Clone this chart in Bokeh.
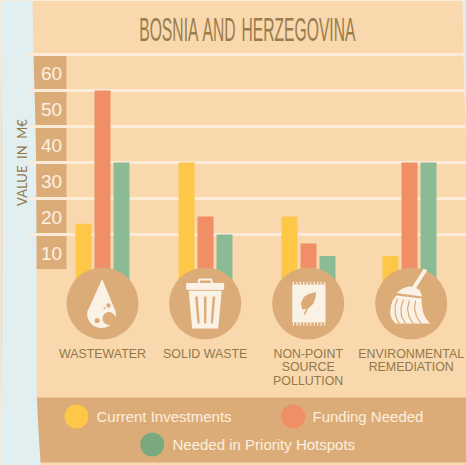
import numpy as np
from bokeh.plotting import figure
from bokeh.models import Range1d, Div
from bokeh.layouts import column
from bokeh.core.properties import value
from bokeh.embed import file_html
from bokeh.resources import INLINE

# ---- data ----
title_text = "BOSNIA AND HERZEGOVINA"
axis_label = "VALUE\u00a0\u00a0IN\u00a0\u00a0M€"
tick_values = [10, 20, 30, 40, 50, 60]
current_investments = [13, 30, 15, 4]
funding_needed = [50, 15, 7.5, 30]
priority_hotspots = [30, 10, 4, 30]
series_names = ["Current Investments", "Funding Needed", "Needed in Priority Hotspots"]
category_lines = [["WASTEWATER"], ["SOLID WASTE"], ["NON-POINT", "SOURCE", "POLLUTION"], ["ENVIRONMENTAL", "REMEDIATION"]]

# ---- style ----
BG, BLUE, TAN, GRID, CREAM = "#F9D8AE", "#E2EFF0", "#DCAC78", "#FCECD7", "#FBF2E6"
YEL, ORG, GRN, GRN2 = "#FFC748", "#F08E66", "#8ABB95", "#7BA97F"
TXT = "#93784A"
W, H = 466, 465
group_x = [102, 205, 308, 409]
circle_x = [102, 204.7, 307.7, 410.7]
circle_y = 303

p = figure(width=W, height=H, x_range=Range1d(0, W), y_range=Range1d((270 - H) / 3.6, 270 / 3.6),
           output_backend="svg", toolbar_location=None, min_border=0, outline_line_color=None,
           background_fill_color=BG, border_fill_color=BG)
p.extra_y_ranges = {"px": Range1d(H, 0)}
p.xaxis.visible = False
p.yaxis.visible = False
p.grid.visible = False

def poly(xs, ys, color, **kw):
    p.patch(list(xs), list(ys), fill_color=color, line_color=None, y_range_name="px", **kw)

# legend band
poly([30, W, W, 30], [397, 397, 462, 462], TAN)
# tick boxes
p.quad(left=20, right=66, top=[v - 0.42 for v in tick_values], bottom=[v - 9.58 for v in tick_values],
       fill_color=TAN, line_color=None)
# left blue shape
poly([0, 32, 33, 34, 35, 35.6, 36, 36.3, 38, 40, 41, 0], [0, 0, 54, 90, 126, 163, 240, 397, 430, 462, 465, 465], BLUE)
poly([0, 1.5, 2, 1.5, 0], [40, 120, 240, 350, 420], BG)
# grid lines
p.segment(x0=28, x1=W, y0=tick_values, y1=tick_values, line_color=GRID, line_width=3)
# right blue shape
poly([462, 463, 464.5, 466, 466, 466], [0, 54, 110, 170, 170, 0], BLUE)

# bars
for vals, off, col in zip([current_investments, funding_needed, priority_hotspots], [-19, 0, 19], [YEL, ORG, GRN]):
    p.vbar(x=[g + off for g in group_x], top=vals, bottom=-4, width=16, fill_color=col, line_color=None)

# icon circles
p.circle(x=circle_x, y=[circle_y] * 4, radius=36, fill_color=TAN, line_color=None, y_range_name="px")

def disc(cx, cy, r, color):
    p.circle(x=[cx], y=[cy], radius=r, fill_color=color, line_color=None, y_range_name="px")

# drop
t = np.linspace(-0.2, np.pi + 0.2, 40)
dx = 101 + 14.3 * np.cos(t)
dy = 313.5 + 14 * np.sin(t)
poly(list(dx) + [101.7], list(dy) + [278.5], CREAM)
disc(108.5, 318, 6.5, TAN)
disc(96.7, 320, 2.6, TAN)
disc(108, 305, 2.2, TAN)
disc(104, 307.8, 1, TAN)

# bin
bx = 204.7
p.line([bx - 7, bx - 6, bx + 6, bx + 7], [284, 279, 279, 284], line_color=CREAM, line_width=2, y_range_name="px")
p.quad(left=bx - 18.5, right=bx + 18.5, top=283, bottom=288.8, fill_color=CREAM, line_color=CREAM, line_width=1, line_join="round", y_range_name="px")
poly([bx - 16.5, bx + 16.5, bx + 13, bx - 13], [290.3, 290.3, 328, 328], CREAM)
for x0, x1 in [(-8.8, -6.6), (0, 0), (8.8, 6.6)]:
    poly([bx + x0 - 1.3, bx + x0 + 1.3, bx + x1 + 1.1, bx + x1 - 1.1], [296, 296, 323, 323], TAN)

# bag
poly([291.7, 325, 325, 291.7], [284, 284, 322, 322], CREAM)
for fx in np.linspace(293, 324, 10):
    p.segment(x0=[fx, fx], x1=[fx, fx], y0=[281.3, 322], y1=[284, 325.3], line_color=CREAM, line_width=1.2, y_range_name="px")
poly([315.5, 315, 313, 309, 305.5, 301.5, 300.5, 302, 304, 308, 312.5], [291.5, 297, 303, 307, 308.5, 309, 303, 299, 296, 293.5, 292.2], TAN)
p.line([311, 304], [298, 314], line_color=TAN, line_width=1.8, y_range_name="px")

# broom
p.line([425, 413], [269, 288], line_color=CREAM, line_width=4, y_range_name="px")
poly([396, 402, 408, 414, 419, 421.5, 421, 396], [292.5, 288, 286, 286.5, 289.5, 295, 296, 292.5], CREAM)
poly([396, 421, 421.5, 423, 426, 430, 395, 391, 389.7, 390.5, 392.5],
     [295, 298, 306, 313, 319, 323, 323, 318, 312, 305, 299], CREAM)
for xs, ys in [([397, 394.5, 395, 398.5], [298, 306, 315, 323]),
               ([403, 400.5, 401, 405], [299, 307, 316, 323]),
               ([409, 407, 408.5, 412.5], [300, 308, 316, 323]),
               ([415, 414, 416, 420.5], [300, 308, 316, 323])]:
    p.line(xs, ys, line_color=TAN, line_width=1.2, y_range_name="px")

# tick labels
p.text(x=[51] * 6, y=tick_values, text=[str(v) for v in tick_values], y_offset=18.5,
       text_font=value("Liberation Sans"), text_font_size="19px", text_color="#FCF1E3",
       text_align="center", text_baseline="middle")

# axis title
p.text(x=[21], y=[162], text=[axis_label], angle=np.pi / 2, text_font=value("Lato"), text_font_size="13px",
       text_color=TXT, text_align="center", text_baseline="middle", y_range_name="px")

# category labels
line_y = [353, 366.7, 380.3]
for cx, lines in zip(circle_x, category_lines):
    p.text(x=[cx] * len(lines), y=line_y[:len(lines)], text=lines, text_font=value("Liberation Sans"),
           text_font_size="12.4px", text_color=TXT, text_align="center", text_baseline="middle", y_range_name="px")

# legend
p.circle(x=[76, 292.7, 151.7], y=[416, 416, 444], radius=12, fill_color=[YEL, ORG, GRN2], line_color=None, y_range_name="px")
p.text(x=[96, 312, 172], y=[415.5, 415.5, 443.5], text=series_names, text_font=value("Liberation Sans"), text_font_size="15px",
       text_color="#FCEFDF", text_baseline="middle", y_range_name="px")

# title, horizontally condensed real text
title = Div(text=(f'<div style="position:absolute;left:0;top:11px;width:{W}px;text-align:center;'
                  f'white-space:nowrap;font:33px \'Liberation Sans Narrow\',\'Liberation Sans\';color:#8A6E3C;opacity:.85;'
                  f'word-spacing:3px;transform-origin:247px 0;transform:scaleX(0.475);pointer-events:none;margin-left:7px">{title_text}</div>'),
            width=W, height=0, margin=0, styles={"z-index": "10"})
layout = column(title, p, spacing=0, margin=0)

html = file_html(layout, INLINE)
html = html.replace("<head>", "<head><style>html,body{margin:0;overflow:hidden}</style>", 1)
open("out.html", "w").write(html)
